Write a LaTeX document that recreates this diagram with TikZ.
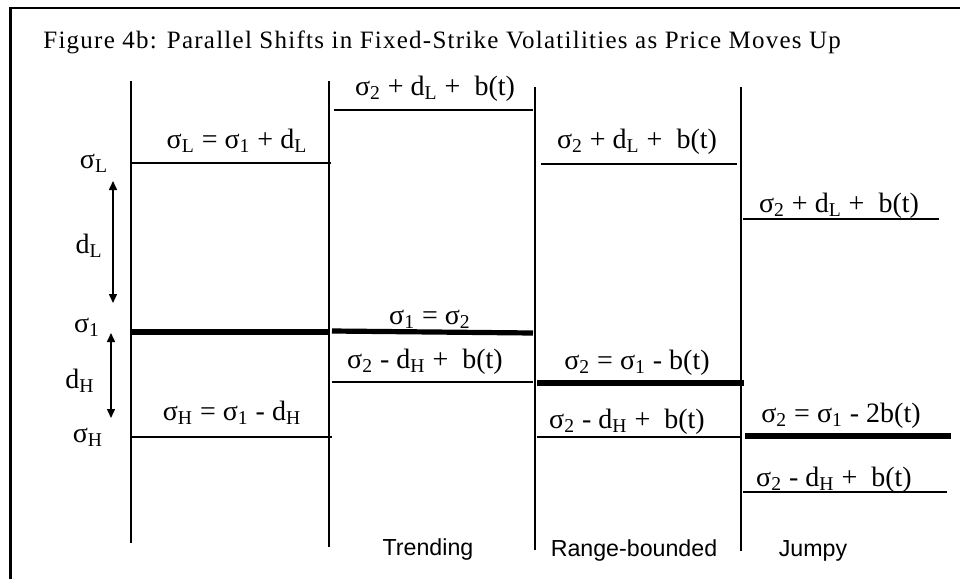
\documentclass[tikz,border=0pt]{standalone}
\usepackage{fontspec}
\setmainfont{Liberation Serif}
\setsansfont{Liberation Sans}
\usetikzlibrary{arrows.meta}
\newcommand{\lo}[1]{\textsubscript{#1}}
\newcommand{\sg}{σ}
\tikzset{x=0.5pt, y=-0.5pt,
    every node/.append style={font=\fontsize{14}{16}\selectfont, inner sep=0pt, anchor=base},
    thinlevel/.style={line width=0.75pt},
    thicklevel/.style={line width=2.6pt},
    regime/.style={font=\sffamily\fontsize{11.6}{13}\selectfont},
    gap/.style={line width=0.75pt, {Triangle[length=4.5pt,width=4pt]}-{Triangle[length=4.5pt,width=4pt]}}}

\begin{document}
\begin{tikzpicture}
    \useasboundingbox (0,0) rectangle (960,579);
    \draw[line width=1.3pt] (10.7,579) -- (10.7,8) -- (960,8);
    \node[anchor=base west, font=\fontsize{12.5}{15}\selectfont\addfontfeature{LetterSpace=5}] (title) at (43,48)
        {Figure 4b: Parallel Shifts in Fixed-Strike Volatilities as Price Moves Up};

    \foreach \x/\t/\b in {131/81/543, 329/81/547, 535/87/550, 741/87/551}
        \draw[thinlevel] (\x,\t) -- (\x,\b);

    \draw[thinlevel] (131,163) -- (331,163);
    \draw[thicklevel] (131,332) -- (329,332);
    \draw[thinlevel] (131,437) -- (332,437);
    \draw[thinlevel] (334,110) -- (533,110);
    \draw[thicklevel] (332,331) -- (533,333);
    \draw[thinlevel] (332,382) -- (533,382);
    \draw[thinlevel] (541,164) -- (737,164);
    \draw[thicklevel] (537,383) -- (744,383);
    \draw[thinlevel] (537,437) -- (741,437);
    \draw[thinlevel] (743,219) -- (939,219);
    \draw[thicklevel, line width=3pt] (745,436) -- (951,436);
    \draw[thinlevel] (743,492) -- (947,492);

    \node (sigL) at (94,168) {\sg\lo{L}};
    \node (sig1) at (87,332) {\sg\lo{1}};
    \node (sigH) at (88,442) {\sg\lo{H}};
    \node (dL) at (89,253) {d\lo{L}};
    \node (dH) at (80,388) {d\lo{H}};
    \coordinate (dLtop) at (113,181);
    \coordinate (dLbot) at (113,303);
    \coordinate (dHtop) at (111,333);
    \coordinate (dHbot) at (111,418);
    \draw[gap] (dLtop) -- (dLbot);
    \draw[gap] (dHtop) -- (dHbot);

    \node (eqL) at (237,148) {\sg\lo{L} = \sg\lo{1} + d\lo{L}};
    \node (eqH) at (232,420) {\sg\lo{H} = \sg\lo{1} - d\lo{H}};
    \node (trendup) at (435,95) {\sg\lo{2} + d\lo{L} + \ b(t)};
    \node (trendmid) at (430,324) {\sg\lo{1} = \sg\lo{2}};
    \node (trenddn) at (425,368) {\sg\lo{2} - d\lo{H} + \ b(t)};
    \node (rangeup) at (637,148) {\sg\lo{2} + d\lo{L} + \ b(t)};
    \node (rangemid) at (637,369) {\sg\lo{2} = \sg\lo{1} - b(t)};
    \node (rangedn) at (627,428) {\sg\lo{2} - d\lo{H} + \ b(t)};
    \node (jumpup) at (839,212) {\sg\lo{2} + d\lo{L} + \ b(t)};
    \node (jumpmid) at (841,422) {\sg\lo{2} = \sg\lo{1} - 2b(t)};
    \node (jumpdn) at (834,486) {\sg\lo{2} - d\lo{H} + \ b(t)};

    \node[regime] (trending) at (428,555) {Trending};
    \node[regime] (ranging) at (634,556) {Range-bounded};
    \node[regime] (jumpy) at (813,556) {Jumpy};
\end{tikzpicture}
\end{document}
